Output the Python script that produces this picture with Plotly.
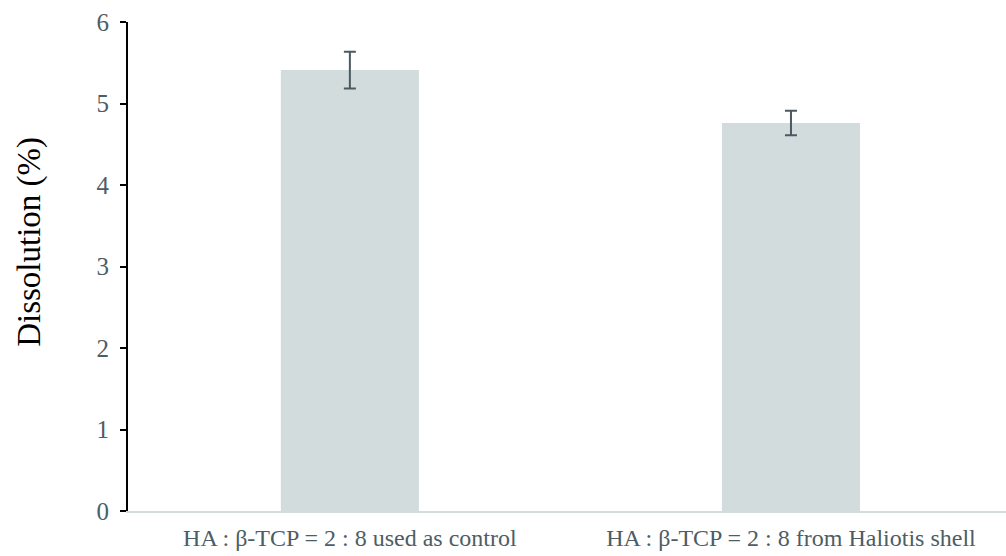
import plotly.graph_objects as go

categories = ["HA : β-TCP = 2 : 8 used as control", "HA : β-TCP = 2 : 8 from Haliotis shell"]
values = [5.41, 4.76]
errors = [0.225, 0.15]
y_ticks = [0, 1, 2, 3, 4, 5, 6]
y_title = "Dissolution (%)"

fig = go.Figure()
fig.add_trace(go.Bar(
    x=[0, 1], y=values,
    width=0.313,
    marker=dict(color="#d3dcdc", line=dict(width=0)),
    error_y=dict(type="data", array=errors, visible=True, color="#4b5a62", thickness=2, width=6),
))

fig.update_layout(
    width=1006, height=556,
    margin=dict(l=128, r=0, t=22, b=45),
    paper_bgcolor="white", plot_bgcolor="white",
    showlegend=False,
    font=dict(family="Liberation Serif", color="#4d5d66", size=24),
    xaxis=dict(
        range=[-0.503, 1.4875],
        tickvals=[0, 1], ticktext=categories,
        showline=True, linecolor="#d3dcdc", linewidth=2,
        showgrid=False, zeroline=False, ticks="",
        tickfont=dict(size=24, color="#4d5d66"),
        ticklabelstandoff=4,
    ),
    yaxis=dict(
        range=[0, 6], tickvals=y_ticks,
        showline=True, linecolor="black", linewidth=2,
        ticks="outside", ticklen=6, tickcolor="black", tickwidth=2,
        showgrid=False, zeroline=False,
        tickfont=dict(size=25, color="#4d5d66"),
        ticklabelstandoff=6,
    ),
    annotations=[dict(
        text=y_title, textangle=-90, xref="paper", yref="paper",
        x=-0.113, y=0.55, xanchor="center", yanchor="middle", showarrow=False,
        font=dict(size=33, color="black", family="Liberation Serif"),
    )],
)

fig.write_html("out.html")
